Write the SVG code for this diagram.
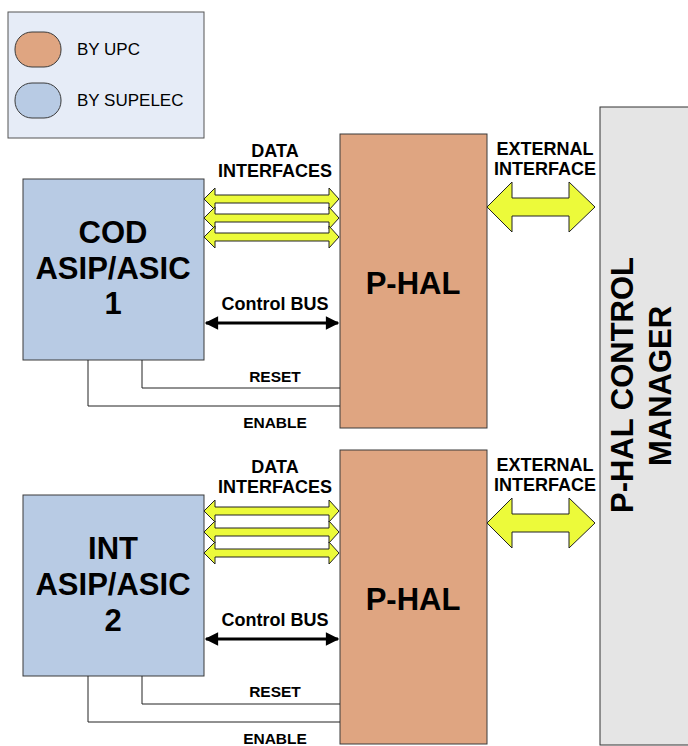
<svg xmlns="http://www.w3.org/2000/svg" width="688" height="746" viewBox="0 0 688 746">
<style>
text{font-family:"Liberation Sans",Arial,sans-serif;fill:#000}
.big{font-size:31px;font-weight:bold;text-anchor:middle}
.lbl{font-size:18px;font-weight:bold;text-anchor:middle}
.sm{font-size:15.5px;font-weight:bold;text-anchor:middle}
.leg{font-size:17px}
.upc{fill:#dfa581;stroke:#3a3a3a;stroke-width:1}
.sup{fill:#b8cbe4;stroke:#3a3a3a;stroke-width:1}
.yel{fill:#ecfa3a;stroke:#222;stroke-width:1;stroke-linejoin:miter}
.wire{fill:none;stroke:#222;stroke-width:1}
.bus{fill:none;stroke:#000;stroke-width:3}
</style>
<defs>
<marker id="ah" viewBox="0 0 10 10" refX="9" refY="5" markerWidth="5" markerHeight="4.5" orient="auto-start-reverse" markerUnits="strokeWidth">
<path d="M0,0 L10,5 L0,10 z" fill="#000"/>
</marker>
</defs>
<g id="legend">
<rect x="8" y="12" width="196" height="126" fill="#e6ecf7" stroke="#555" stroke-width="1"/>
<rect x="15" y="32" width="46" height="35" rx="17" class="upc"/>
<rect x="15" y="83" width="46" height="35" rx="17" class="sup"/>
<text x="77" y="55" class="leg">BY UPC</text>
<text x="77" y="106" class="leg">BY SUPELEC</text>
</g>
<g id="manager">
<rect x="600" y="107" width="92" height="638" fill="#e5e5e5" stroke="#333" stroke-width="1"/>
<text class="big" transform="translate(633,385) rotate(-90)">P-HAL CONTROL</text>
<text class="big" transform="translate(671,386) rotate(-90)">MANAGER</text>
</g>
<g id="cod">
<rect x="23" y="179" width="181" height="181" class="sup"/>
<text x="113" y="243" class="big">COD</text>
<text x="113" y="279" class="big">ASIP/ASIC</text>
<text x="113" y="314" class="big">1</text>
</g>
<g id="phal1">
<rect x="340" y="134" width="147" height="294" class="upc"/>
<text x="413" y="294" class="big">P-HAL</text>
</g>
<g id="int">
<rect x="23" y="495" width="181" height="181" class="sup"/>
<text x="113" y="559" class="big">INT</text>
<text x="113" y="595" class="big">ASIP/ASIC</text>
<text x="113" y="631" class="big">2</text>
</g>
<g id="phal2">
<rect x="340" y="450" width="147" height="294" class="upc"/>
<text x="413" y="610" class="big">P-HAL</text>
</g>
<g id="connectors">
<path class="yel" d="M204,199 L215,188 L215,195 L329,195 L329,188 L339,199 L329,210 L329,203 L215,203 L215,210 Z"/>
<path class="yel" d="M204,218 L215,207 L215,214 L329,214 L329,207 L339,218 L329,229 L329,222 L215,222 L215,229 Z"/>
<path class="yel" d="M204,237 L215,226 L215,233 L329,233 L329,226 L339,237 L329,248 L329,241 L215,241 L215,248 Z"/>
<path class="yel" d="M204,511 L215,500 L215,507 L329,507 L329,500 L339,511 L329,522 L329,515 L215,515 L215,522 Z"/>
<path class="yel" d="M204,532 L215,521 L215,528 L329,528 L329,521 L339,532 L329,543 L329,536 L215,536 L215,543 Z"/>
<path class="yel" d="M204,553 L215,542 L215,549 L329,549 L329,542 L339,553 L329,564 L329,557 L215,557 L215,564 Z"/>
<path class="yel" d="M487,207 L512,182 L512,198 L569,198 L569,182 L595,207 L569,232 L569,216 L512,216 L512,232 Z"/>
<path class="yel" d="M487,523 L512,498 L512,514 L569,514 L569,498 L595,523 L569,548 L569,532 L512,532 L512,548 Z"/>
<line class="bus" x1="206" y1="323" x2="338" y2="323" marker-start="url(#ah)" marker-end="url(#ah)"/>
<line class="bus" x1="206" y1="639" x2="338" y2="639" marker-start="url(#ah)" marker-end="url(#ah)"/>
<path class="wire" d="M142,360 V388 H340"/>
<path class="wire" d="M88,360 V406 H340"/>
<path class="wire" d="M142,676 V704 H340"/>
<path class="wire" d="M88,676 V722 H340"/>
<text x="275" y="157" class="lbl">DATA</text>
<text x="275" y="177" class="lbl">INTERFACES</text>
<text x="275" y="473" class="lbl">DATA</text>
<text x="275" y="493" class="lbl">INTERFACES</text>
<text x="275" y="310" class="lbl">Control BUS</text>
<text x="275" y="626" class="lbl">Control BUS</text>
<text x="275" y="382" class="sm">RESET</text>
<text x="275" y="428" class="sm">ENABLE</text>
<text x="275" y="697" class="sm">RESET</text>
<text x="275" y="744" class="sm">ENABLE</text>
<text x="545" y="155" class="lbl">EXTERNAL</text>
<text x="545" y="175" class="lbl">INTERFACE</text>
<text x="545" y="471" class="lbl">EXTERNAL</text>
<text x="545" y="491" class="lbl">INTERFACE</text>
</g>
</svg>
